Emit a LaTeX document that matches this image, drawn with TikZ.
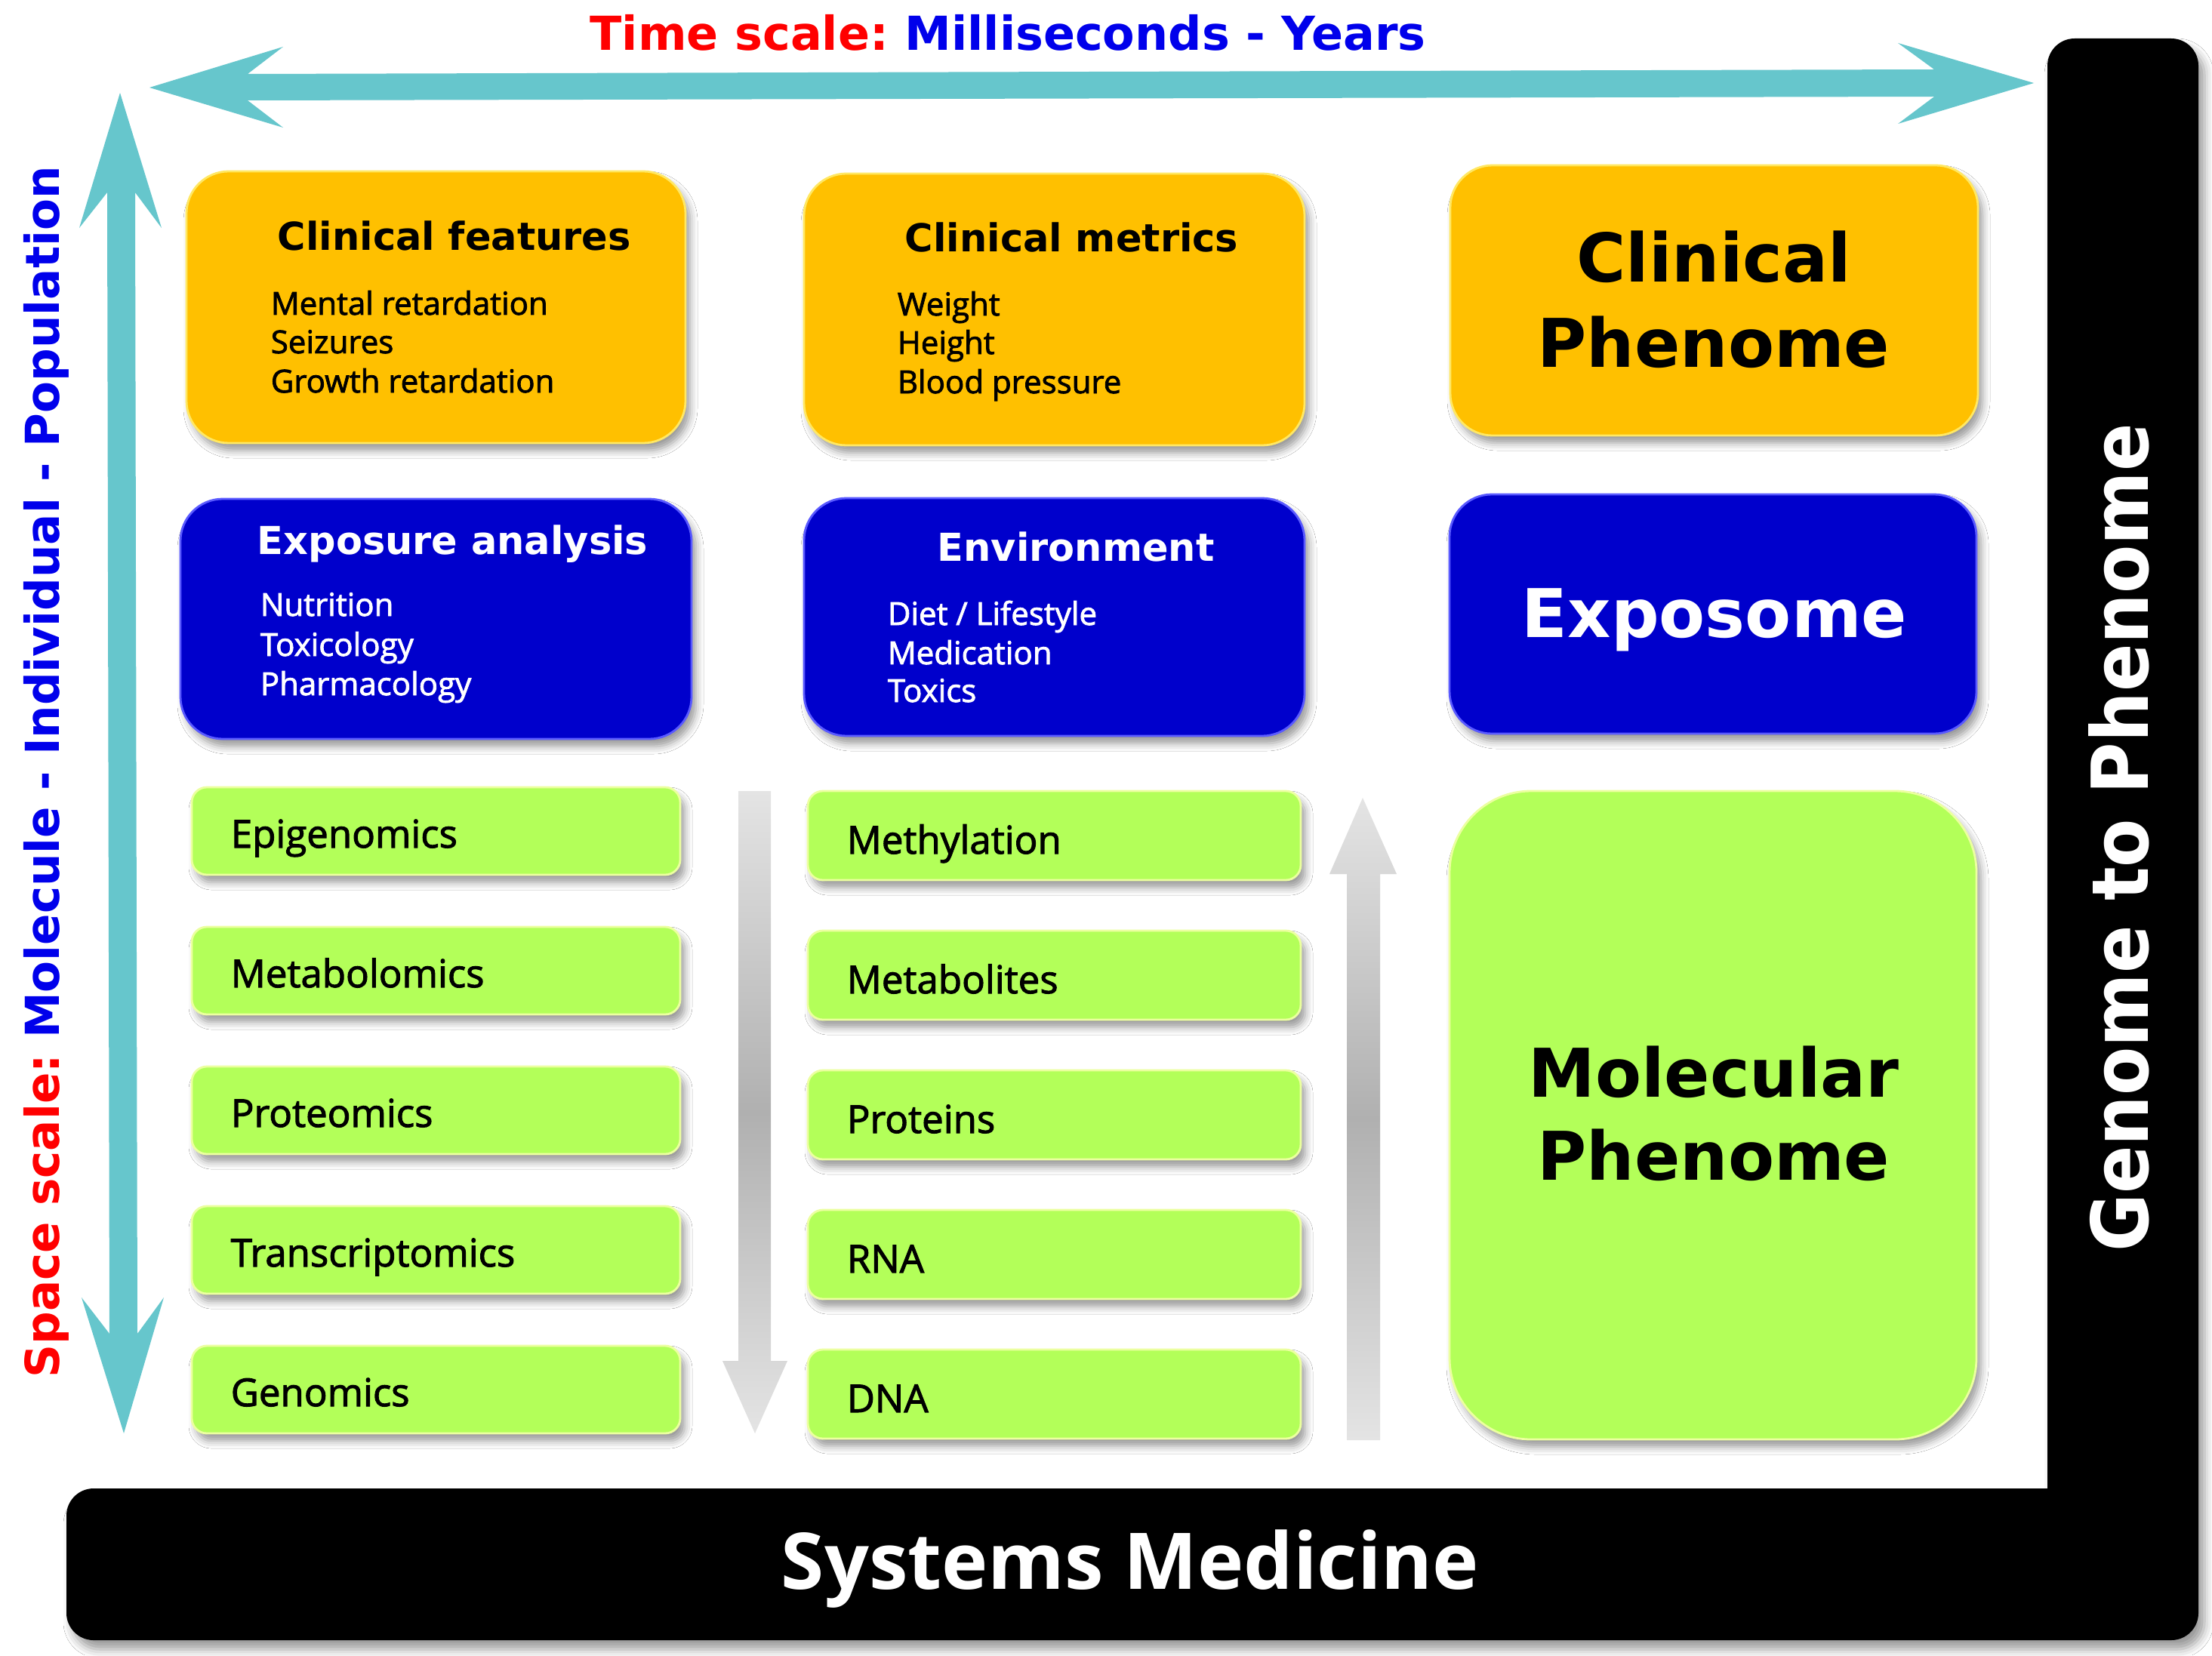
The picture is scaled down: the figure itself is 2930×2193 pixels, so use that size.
\documentclass[tikz,border=0pt]{standalone}
\usepackage{fontspec}
\setmainfont{Open Sans}
\newfontfamily\semi{Open Sans}[FakeBold=2]
\newfontfamily\heavy{DejaVu Sans}
\usetikzlibrary{shadows.blur,fit}

\definecolor{boxgold}{RGB}{255,192,0}
\definecolor{goldedge}{RGB}{255,232,100}
\definecolor{boxnavy}{RGB}{0,0,204}
\definecolor{navyedge}{RGB}{90,90,255}
\definecolor{boxlime}{RGB}{179,255,89}
\definecolor{limeedge}{RGB}{236,255,160}
\definecolor{axcyan}{RGB}{102,198,204}
\definecolor{tred}{RGB}{255,0,0}
\definecolor{tblue}{RGB}{0,0,235}
\definecolor{greylight}{RGB}{228,228,228}
\definecolor{greydark}{RGB}{176,176,176}

\newcommand\fsz[1]{\fontsize{#1pt}{#1pt}\selectfont}

\tikzset{
 panel/.style={inner sep=0pt, line width=0.7pt,
   blur shadow={shadow xshift=1.5pt, shadow yshift=-2.5pt, shadow blur radius=2.5pt, shadow opacity=40}},
 orangep/.style={panel, fill=boxgold, draw=goldedge, rounded corners=14pt},
 bluep/.style={panel, fill=boxnavy, draw=navyedge, rounded corners=14pt},
 greenp/.style={panel, fill=boxlime, draw=limeedge, rounded corners=5pt},
 txt/.style={inner sep=0pt, anchor=base west},
 boxhead/.style={txt, font=\heavy\bfseries\fsz{12.75}},
 item/.style={txt, font=\semi\fsz{10.5}},
 omic/.style={txt, font=\semi\fsz{12.75}},
 bighead/.style={inner sep=0pt, anchor=base, font=\heavy\bfseries\fsz{22.25}},
 axislabel/.style={inner sep=0pt, anchor=base, font=\heavy\bfseries\fsz{15.5}},
 axisarrow/.style={fill=axcyan},
 greyarrow/.style={top color=greylight, bottom color=greylight, middle color=greydark},
}

\begin{document}
\begin{tikzpicture}[x=0.25pt,y=-0.25pt]
\useasboundingbox (0,0) rectangle (2930,2193);
\fill[white] (0,0) rectangle (2930,2193);

% black L frame
\fill[black, blur shadow={shadow xshift=2pt, shadow yshift=-3pt, shadow blur radius=3pt, shadow opacity=40}]
  (2712,1972) -- (1500,1972) {[rounded corners=9pt] -- (88,1972) -- (88,2173) -- (2912,2173) -- (2912,51) -- (2712,51) -- (2712,1000)} -- cycle;
\node[inner sep=0pt, anchor=base, text=white, font=\bfseries\fsz{25.9}] (sysmed) at (1497,2105) {Systems Medicine};
\node[inner sep=0pt, anchor=base, rotate=90, text=white, font=\heavy\bfseries\fsz{26}] (g2p) at (2845,1110) {\scalebox{0.9}[1]{Genome to Phenome}};

% axis arrows
\fill[axisarrow] (198,116) -- (375,62) -- (328,98) -- (2562,92) -- (2514,57) -- (2694,110) -- (2514,164) -- (2562,128) -- (328,133) -- (375,169) -- cycle;
\fill[axisarrow] (159,123) -- (214,302) -- (179,255) -- (182,1767) -- (217,1719) -- (164,1899) -- (108,1719) -- (145,1767) -- (142,255) -- (105,302) -- cycle;

\node[axislabel] (timelab) at (1335,67) {\color{tred}Time scale:\ \color{tblue}Milliseconds - Years};
\node[axislabel, rotate=90] (spacelab) at (79,1023) {\scalebox{0.985}[1]{\color{tred}Space scale:\ \color{tblue}Molecule - Individual - Population}};

% grey arrows
\shade[greyarrow] (978,1048) -- (1021,1048) -- (1021,1803) -- (1043,1803) -- (1000,1899) -- (957,1803) -- (978,1803) -- cycle;
\shade[greyarrow] (1784,1908) -- (1784,1158) -- (1761,1158) -- (1805,1057) -- (1850,1158) -- (1828,1158) -- (1828,1908) -- cycle;

% orange row
\node[orangep, fit={(247,227) (908,587)}] (cfbox) {};
\node[orangep, fit={(1065,230) (1728,590)}] (cmbox) {};
\node[orangep, fit={(1921,219) (2620,577)}] (cpbox) {};
\node[boxhead] (cft) at (367,332) {Clinical features};
\node[item] (cf1) at (358,417) {Mental retardation};
\node[item] (cf2) at (358,468) {Seizures};
\node[item] (cf3) at (358,520) {Growth retardation};
\node[boxhead] (cmt) at (1198,334) {Clinical metrics};
\node[item] (cm1) at (1188,418) {Weight};
\node[item] (cm2) at (1188,469) {Height};
\node[item] (cm3) at (1188,521) {Blood pressure};
\node[bighead] (cp1) at (2270,374) {Clinical};
\node[bighead] (cp2) at (2270,486) {Phenome};

% blue row
\node[bluep, fit={(239,661) (916,979)}] (eabox) {};
\node[bluep, fit={(1065,660) (1728,975)}] (envbox) {};
\node[bluep, fit={(1920,655) (2618,972)}] (expbox) {};
\node[boxhead, text=white] (eat) at (340,734) {Exposure analysis};
\node[item, text=white] (ea1) at (344,816) {Nutrition};
\node[item, text=white] (ea2) at (344,869) {Toxicology};
\node[item, text=white] (ea3) at (344,921) {Pharmacology};
\node[boxhead, text=white] (envt) at (1241,743) {Environment};
\node[item, text=white] (env1) at (1175,828) {Diet / Lifestyle};
\node[item, text=white] (env2) at (1175,880) {Medication};
\node[item, text=white] (env3) at (1175,930) {Toxics};
\node[bighead, text=white] (expt) at (2271,844) {Exposome};

% green column 1
\node[greenp, fit={(254,1043) (901,1159)}] (g11) {};
\node[greenp, fit={(254,1228) (901,1344)}] (g12) {};
\node[greenp, fit={(254,1413) (901,1529)}] (g13) {};
\node[greenp, fit={(254,1598) (901,1714)}] (g14) {};
\node[greenp, fit={(254,1783) (901,1899)}] (g15) {};
\node[omic] (t11) at (305,1123) {Epigenomics};
\node[omic] (t12) at (305,1308) {Metabolomics};
\node[omic] (t13) at (305,1493) {Proteomics};
\node[omic] (t14) at (305,1678) {Transcriptomics};
\node[omic] (t15) at (305,1863) {Genomics};

% green column 2
\node[greenp, fit={(1070,1048) (1723,1166)}] (g21) {};
\node[greenp, fit={(1070,1233) (1723,1351)}] (g22) {};
\node[greenp, fit={(1070,1418) (1723,1536)}] (g23) {};
\node[greenp, fit={(1070,1603) (1723,1721)}] (g24) {};
\node[greenp, fit={(1070,1788) (1723,1906)}] (g25) {};
\node[omic] (t21) at (1121,1131) {Methylation};
\node[omic] (t22) at (1121,1316) {Metabolites};
\node[omic] (t23) at (1121,1501) {Proteins};
\node[omic] (t24) at (1121,1686) {RNA};
\node[omic] (t25) at (1121,1871) {DNA};

% molecular phenome
\node[greenp, rounded corners=27pt, fit={(1920,1048) (2618,1907)}] (mpbox) {};
\node[bighead] (mp1) at (2270,1453) {Molecular};
\node[bighead] (mp2) at (2270,1563) {Phenome};
\end{tikzpicture}
\end{document}
